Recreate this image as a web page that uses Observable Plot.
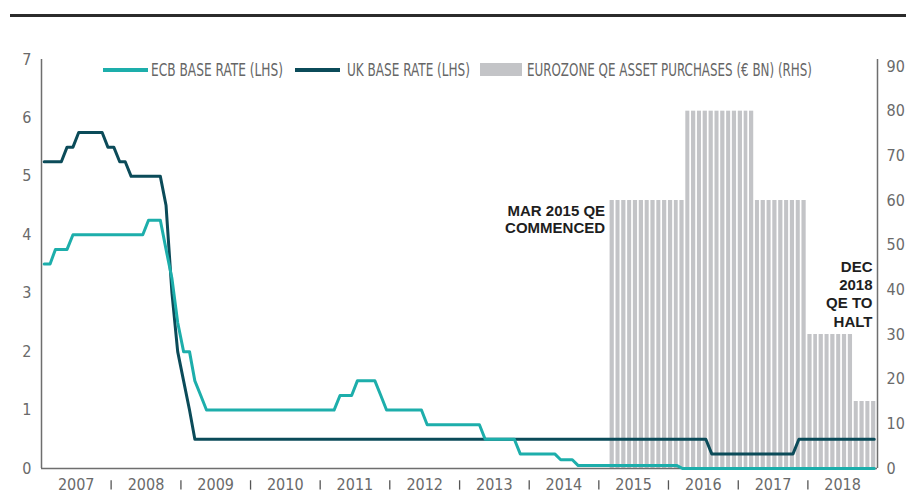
<!DOCTYPE html>
<html><head><meta charset="utf-8">
<script src="https://cdn.jsdelivr.net/npm/d3@7"></script>
<script src="https://cdn.jsdelivr.net/npm/@observablehq/plot@0.6"></script>
<style>
body{margin:0;background:#fff;}
#wrap{position:relative;width:906px;height:493px;overflow:hidden;font-family:"Liberation Sans Narrow","DejaVu Sans Condensed",sans-serif;}
#chart{position:absolute;left:0;top:0;}
.topline{position:absolute;left:10px;top:14px;width:896px;height:3px;background:#2b2b2b;}
.lgt{position:absolute;top:61px;font-size:17px;line-height:18px;color:#666;white-space:nowrap;transform-origin:0 50%;}
.sw{position:absolute;}
</style></head>
<body><div id="wrap"><div id="chart"></div><div class="topline"></div><div id="legend"></div></div>
<script>
// ---- data (monthly, Jan 2007 .. Dec 2018) ----
const firstYear = 2007;
const ukRate = [
  5.25,5.25,5.25,5.25,5.5,5.5,5.75,5.75,5.75,5.75,5.75,5.5,   // 2007
  5.5,5.25,5.25,5.0,5.0,5.0,5.0,5.0,5.0,4.5,3.0,2.0,          // 2008
  1.5,1.0,0.5,0.5,0.5,0.5,0.5,0.5,0.5,0.5,0.5,0.5,            // 2009
  0.5,0.5,0.5,0.5,0.5,0.5,0.5,0.5,0.5,0.5,0.5,0.5,            // 2010
  0.5,0.5,0.5,0.5,0.5,0.5,0.5,0.5,0.5,0.5,0.5,0.5,            // 2011
  0.5,0.5,0.5,0.5,0.5,0.5,0.5,0.5,0.5,0.5,0.5,0.5,            // 2012
  0.5,0.5,0.5,0.5,0.5,0.5,0.5,0.5,0.5,0.5,0.5,0.5,            // 2013
  0.5,0.5,0.5,0.5,0.5,0.5,0.5,0.5,0.5,0.5,0.5,0.5,            // 2014
  0.5,0.5,0.5,0.5,0.5,0.5,0.5,0.5,0.5,0.5,0.5,0.5,            // 2015
  0.5,0.5,0.5,0.5,0.5,0.5,0.5,0.25,0.25,0.25,0.25,0.25,       // 2016
  0.25,0.25,0.25,0.25,0.25,0.25,0.25,0.25,0.25,0.25,0.5,0.5,  // 2017
  0.5,0.5,0.5,0.5,0.5,0.5,0.5,0.5,0.5,0.5,0.5,0.5             // 2018
];
const ecbRate = [
  3.5,3.5,3.75,3.75,3.75,4,4,4,4,4,4,4,                       // 2007
  4,4,4,4,4,4,4.25,4.25,4.25,3.75,3.25,2.5,                   // 2008
  2,2,1.5,1.25,1,1,1,1,1,1,1,1,                               // 2009
  1,1,1,1,1,1,1,1,1,1,1,1,                                    // 2010
  1,1,1,1.25,1.25,1.25,1.5,1.5,1.5,1.5,1.25,1,                // 2011
  1,1,1,1,1,1,0.75,0.75,0.75,0.75,0.75,0.75,                  // 2012
  0.75,0.75,0.75,0.75,0.5,0.5,0.5,0.5,0.5,0.5,0.25,0.25,      // 2013
  0.25,0.25,0.25,0.25,0.25,0.15,0.15,0.15,0.05,0.05,0.05,0.05,// 2014
  0.05,0.05,0.05,0.05,0.05,0.05,0.05,0.05,0.05,0.05,0.05,0.05,// 2015
  0.05,0.05,0,0,0,0,0,0,0,0,0,0,                              // 2016
  0,0,0,0,0,0,0,0,0,0,0,0,                                    // 2017
  0,0,0,0,0,0,0,0,0,0,0,0                                     // 2018
];
// Eurozone QE asset purchases, EUR bn per month, from Mar 2015 to Dec 2018
const qeStartYear = 2015, qeStartMonth = 2; // March
const qePurchases = [
  60,60,60,60,60,60,60,60,60,60,          // 2015 Mar-Dec
  60,60,60,80,80,80,80,80,80,80,80,80,    // 2016
  80,80,80,60,60,60,60,60,60,60,60,60,    // 2017
  30,30,30,30,30,30,30,30,15,15,15,15     // 2018
];
const yearLabels = [2007,2008,2009,2010,2011,2012,2013,2014,2015,2016,2017,2018];
const leftTicks = [0,1,2,3,4,5,6,7];
const rightTicks = [0,10,20,30,40,50,60,70,80,90];
const seriesNames = ["ECB BASE RATE (LHS)","UK BASE RATE (LHS)","EUROZONE QE ASSET PURCHASES (€ BN) (RHS)"];
const annotations = ["MAR 2015 QE\nCOMMENCED","DEC\n2018\nQE TO\nHALT"];

// ---- styles ----
const ecbColor = "#1daeab", ukColor = "#0b4b59", qeColor = "#c3c4c7", axisColor = "#6e6e6e";
const rightTop = 6.88;            // left-axis units where 90 (RHS) sits
const k = rightTop / 90;          // RHS -> LHS units

// ---- build tables ----
const months = ukRate.map((_, i) => new Date(Date.UTC(firstYear, i, 15)));
const rates = [];
months.forEach((d, i) => {
  rates.push({date: d, v: ecbRate[i], s: "ECB"});
  rates.push({date: d, v: ukRate[i], s: "UK"});
});
const qe = qePurchases.map((v, i) => ({
  x1: new Date(Date.UTC(qeStartYear, qeStartMonth + i, 1)),
  x2: new Date(Date.UTC(qeStartYear, qeStartMonth + i + 1, 1)),
  v
}));
const xStart = new Date(Date.UTC(firstYear, 0, 1));
const xEnd = new Date(Date.UTC(yearLabels[yearLabels.length - 1] + 1, 0, 1));
const midYears = yearLabels.map(y => new Date(Date.UTC(y, 6, 2)));
const yearBounds = yearLabels.slice(1).map(y => new Date(Date.UTC(y, 0, 1)));

const plot = Plot.plot({
  width: 906, height: 493,
  marginLeft: 41, marginRight: 29, marginTop: 59, marginBottom: 25,
  style: {fontFamily: "'Liberation Sans Narrow','DejaVu Sans Condensed',sans-serif", fontSize: "16px", color: "#6a6a6a", background: "transparent"},
  x: {type: "utc", domain: [xStart, xEnd]},
  y: {domain: [0, 7]},
  marks: [
    Plot.rectY(qe, {x1: "x1", x2: "x2", y: d => d.v * k, fill: qeColor, insetRight: 1.7}),
    Plot.ruleY([0], {stroke: axisColor, strokeWidth: 1.5}),
    Plot.ruleX([xStart], {y1: 0, y2: 7, stroke: axisColor, strokeWidth: 1.5}),
    Plot.ruleX([xEnd], {y1: 0, y2: 7, stroke: axisColor, strokeWidth: 1.5}),
    Plot.ruleX(yearBounds, {y1: -0.21, y2: -0.37, stroke: "#555", strokeWidth: 1.3}),
    Plot.axisY(leftTicks, {anchor: "left", tickSize: 0, tickPadding: 10, label: null, tickFormat: d => String(d)}),
    Plot.axisY(rightTicks.map(v => v * k), {anchor: "right", tickSize: 0, tickPadding: 9, label: null, tickFormat: d => String(Math.round(d / k))}),
    Plot.axisX(midYears, {anchor: "bottom", tickSize: 0, tickPadding: 10, label: null, tickFormat: d => String(d.getUTCFullYear())}),
    Plot.line(rates.filter(d => d.s === "UK"), {x: "date", y: "v", stroke: ukColor, strokeWidth: 3}),
    Plot.line(rates.filter(d => d.s === "ECB"), {x: "date", y: "v", stroke: ecbColor, strokeWidth: 3}),
    Plot.text([annotations[0]], {x: () => qe[0].x1, y: () => qePurchases[0] * k, text: d => d, textAnchor: "end", lineAnchor: "top", dx: -5, dy: 4, lineHeight: 1.1, fontFamily: "'Liberation Sans',Arial,sans-serif", fontWeight: "bold", fontSize: 15, fill: "#1e1e1e"}),
    Plot.text([annotations[1]], {x: () => xEnd, y: () => qePurchases[qePurchases.length - 5] * k, text: d => d, textAnchor: "end", lineAnchor: "bottom", dx: -5, dy: -8, lineHeight: 1.22, fontFamily: "'Liberation Sans',Arial,sans-serif", fontWeight: "bold", fontSize: 15, fill: "#1e1e1e"})
  ]
});
document.getElementById("chart").appendChild(plot);

// ---- legend ----
const lg = document.getElementById("legend");
const lgItems = [
  {name: seriesNames[0], color: ecbColor, sw: [103, 68, 45, 4], tx: 151, w: 132},
  {name: seriesNames[1], color: ukColor, sw: [295, 68, 45, 4], tx: 347, w: 123},
  {name: seriesNames[2], color: qeColor, sw: [480, 63, 42, 13], tx: 527, w: 285}
];
lgItems.forEach(it => {
  const s = document.createElement("div");
  s.className = "sw";
  s.style.cssText = `left:${it.sw[0]}px;top:${it.sw[1]}px;width:${it.sw[2]}px;height:${it.sw[3]}px;background:${it.color}`;
  lg.appendChild(s);
  const t = document.createElement("div");
  t.className = "lgt";
  t.style.left = it.tx + "px";
  t.textContent = it.name;
  lg.appendChild(t);
  const wNow = t.getBoundingClientRect().width;
  if (wNow > 0) t.style.transform = `scaleX(${it.w / wNow})`;
});
</script>
</body></html>
